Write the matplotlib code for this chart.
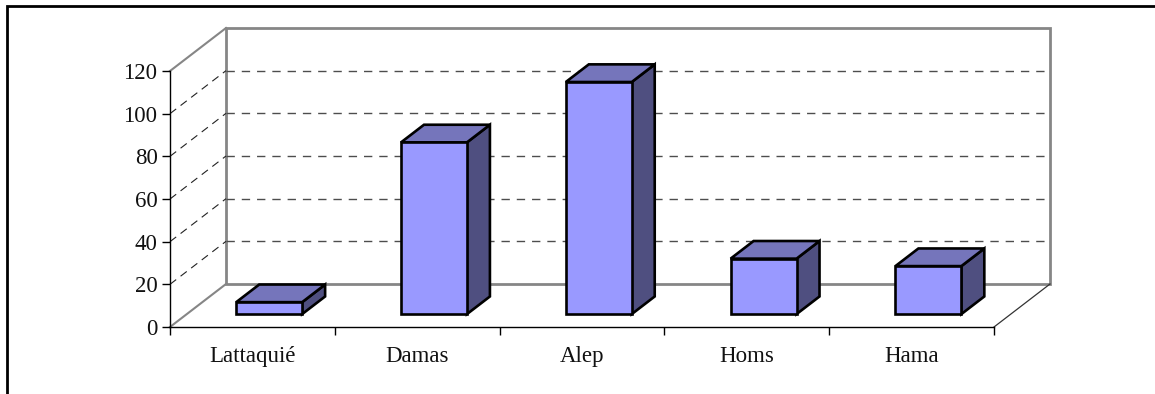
import numpy as np
import matplotlib
matplotlib.use('Agg')
import matplotlib.pyplot as plt
from matplotlib.patches import Polygon

plt.rcParams['font.family'] = ['Liberation Serif', 'DejaVu Serif']

cities = ['Lattaquié', 'Damas', 'Alep', 'Homs', 'Hama']
values = [5.6, 80.5, 108.8, 26, 22.5]
yticks = [0, 20, 40, 60, 80, 100, 120]

W, H = 1155, 394
fig = plt.figure(figsize=(W/100, H/100), dpi=100)
# front plane of the 3d box, in pixels: x 170-994, y 71-327
ax = fig.add_axes([170/W, 1-327/H, 824/W, 256/H])
ax.set_xlim(-0.5, 4.5)
ax.set_ylim(0, 120)

# oblique depth, d=0 front plane, d=1 back wall
DX = 56/164.8
DY = 43/(256/120)

def proj(x, y, d):
    return (x+d*DX, y+d*DY)

def line(p, q, **kw):
    ax.plot([p[0], q[0]], [p[1], q[1]], clip_on=False, **kw)

grey = '#868686'
x0, x1 = -0.5, 4.5
# back wall and side edges
ax.add_patch(Polygon([proj(x0, 0, 1), proj(x1, 0, 1), proj(x1, 120, 1), proj(x0, 120, 1)],
                     closed=True, fill=False, ec=grey, lw=2, clip_on=False, zorder=1))
line(proj(x0, 120, 0), proj(x0, 120, 1), color=grey, lw=1.5, zorder=1)
line(proj(x0, 0, 0), proj(x0, 0, 1), color=grey, lw=1.5, zorder=1)
line(proj(x1, 0, 0), proj(x1, 0, 1), color='#333333', lw=0.9, zorder=1)

# gridlines
for v in yticks[1:-1]:
    line(proj(x0, v, 1), proj(x1, v, 1), color='#4d4d4d', lw=1, dashes=(6, 5), zorder=1)
    line(proj(x0, v, 0), proj(x0, v, 1), color='#222222', lw=0.8, dashes=(7, 5), zorder=1)
line(proj(x0, 120, 1), proj(x1, 120, 1), color='#4d4d4d', lw=0)

# bars
d0, d1 = 0.30, 0.71
bw = 0.40
for i, v in enumerate(values):
    l, r = i-bw/2, i+bw/2
    front = [proj(l, 0, d0), proj(r, 0, d0), proj(r, v, d0), proj(l, v, d0)]
    top = [proj(l, v, d0), proj(r, v, d0), proj(r, v, d1), proj(l, v, d1)]
    side = [proj(r, 0, d0), proj(r, 0, d1), proj(r, v, d1), proj(r, v, d0)]
    for pts, c in [(side, '#4F4F80'), (top, '#7575BB'), (front, '#9999FF')]:
        ax.add_patch(Polygon(pts, closed=True, fc=c, ec='black', lw=1.9, joinstyle='miter',
                             clip_on=False, zorder=3))

# axes
ax.patch.set_visible(False)
for s in ['top', 'right']:
    ax.spines[s].set_visible(False)
for s in ['left', 'bottom']:
    ax.spines[s].set_linewidth(1)
    ax.spines[s].set_zorder(2)
ax.set_yticks(yticks)
ax.set_yticklabels([str(v) for v in yticks], fontsize=16.5, color='#111111')
ax.set_xticks(np.arange(-0.5, 5, 1))
ax.set_xticklabels([])
ax.set_xticks(np.arange(5), minor=True)
ax.set_xticklabels(cities, minor=True, fontsize=16.5, color='#111111')
ax.tick_params(axis='y', length=6, width=1, pad=3)
ax.tick_params(axis='x', which='major', length=6, width=1)
ax.tick_params(axis='x', which='minor', length=0, pad=14)

# outer frame
fig.add_artist(plt.Line2D([7/W, 7/W, 1], [0, 1-5.5/H, 1-5.5/H], color='black', lw=2,
                          solid_joinstyle='miter'))

fig.savefig('out.png', dpi=100)
